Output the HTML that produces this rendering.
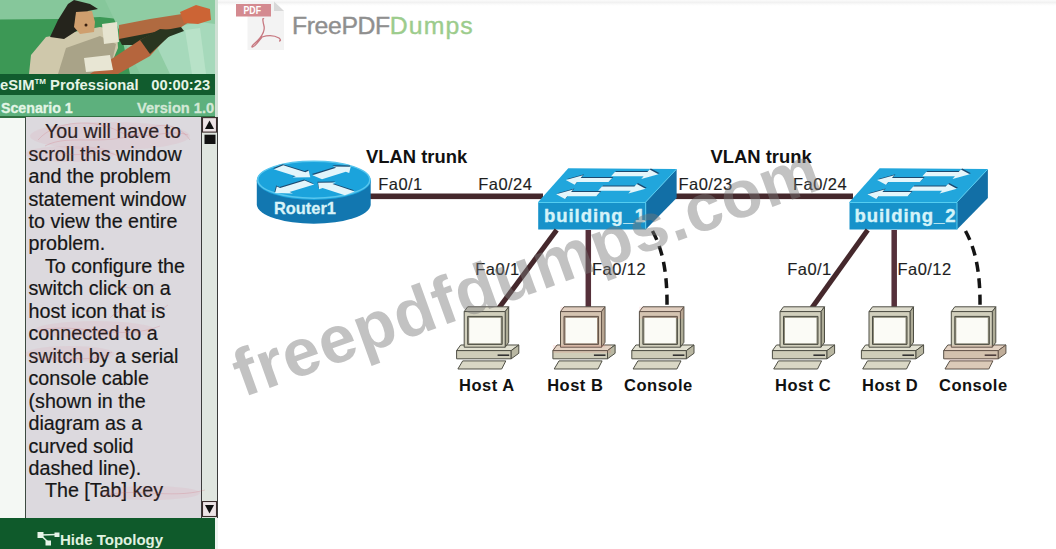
<!DOCTYPE html>
<html><head><meta charset="utf-8">
<style>
html,body{margin:0;padding:0;}
body{width:1056px;height:549px;overflow:hidden;background:#fff;position:relative;font-family:"Liberation Sans",sans-serif;}
.a{position:absolute;white-space:nowrap;}
#left{position:absolute;left:0;top:0;width:218px;height:549px;background:#f4f8f4;overflow:hidden;}
#hdr{position:absolute;left:0;top:74px;width:215px;height:21px;background:#115c2e;}
#scn{position:absolute;left:0;top:95px;width:215px;height:21.5px;background:#5db07d;}
#txt{position:absolute;left:25px;top:117px;width:176px;height:401px;background:#dcd9de;border-left:1.5px solid #3c4a40;}
#txt div{position:absolute;left:2.5px;font-size:19.7px;color:#161616;line-height:20px;white-space:nowrap;-webkit-text-stroke:0.2px #161616;}
#sb{position:absolute;left:201px;top:117px;width:15px;height:401px;background:#dfe5df;border-left:1.2px solid #3a3a3a;border-right:1.2px solid #3a3a3a;}
#bot{position:absolute;left:0;top:518px;width:215px;height:31px;background:#0f5a2b;}
.lab{font-size:16.5px;color:#1e1e1e;letter-spacing:0.45px;-webkit-text-stroke:0.15px #1e1e1e;}
.bl{font-weight:bold;color:#111;}
</style></head>
<body>
<div id="left">
  <svg class="a" style="left:0;top:0;filter:blur(0.6px)" width="215" height="74" viewBox="0 0 215 74">
    <rect x="0" y="0" width="215" height="74" fill="#86c79b"/>
    <polygon points="0,19.5 60,19 100,17 118,19 130,74 0,74" fill="#3c9855"/>
    <polygon points="105,0 215,0 215,74 140,74" fill="#8fcca3"/>
    <polygon points="150,32 200,22 215,24 215,74 170,74" fill="#a6d9bb"/>
    <polygon points="185,30 200,28 206,74 192,74" fill="#b8e2c8"/>
    <!-- shirt -->
    <polygon points="29,74 31,55 46,37 68,33 100,27 117,30 118,48 112,62 98,74" fill="#cfc8ab"/>
    <polygon points="58,74 66,48 100,36 116,44 112,62 98,74" fill="#a9a388"/>
    <!-- hair -->
    <polygon points="50,37 58,20 68,4 74,0 90,4 98,9 88,11 78,30 64,39" fill="#25241c"/>
    <!-- face -->
    <polygon points="76,12 92,11 95,22 94,32 80,34 74,27" fill="#cf9f6e"/>
    <circle cx="86" cy="25" r="1.5" fill="#3a2010"/>
    <!-- sleeve -->
    <polygon points="102,24 117,22 119,42 104,44" fill="#e6e4d0"/>
    <!-- upper arm -->
    <polygon points="119,25 150,19 182,14 192,20 180,28 150,34 119,40" fill="#b06a40"/>
    <polygon points="119,39 150,33 181,27 184,31 160,40 150,45 122,45" fill="#26331f"/>
    <!-- hand -->
    <polygon points="180,12 196,5 210,9 211,20 198,24 184,23" fill="#cc6435"/>
    <!-- lower arm -->
    <polygon points="90,74 110,60 140,40 160,30 168,36 150,56 118,74" fill="#b5653d"/>
    <polygon points="140,40 160,29 176,30 150,54" fill="#2a3520"/>
    <polygon points="84,58 110,55 113,70 86,72" fill="#e8e6d4"/>
  </svg>
  <div id="hdr"></div>
  <div id="scn"></div>
  <div class="a" style="left:0;top:76.8px;font-size:14.75px;font-weight:bold;color:#e6f4e6;">eSIM<sup style="font-size:8px;vertical-align:6px">TM</sup> Professional</div>
  <div class="a" style="left:151.3px;top:76.8px;font-size:14.7px;font-weight:bold;color:#e6f4e6;">00:00:23</div>
  <div class="a" style="left:1px;top:100.3px;font-size:14.2px;font-weight:bold;color:#e3f5e6;-webkit-text-stroke:0.3px #e3f5e6">Scenario 1</div>
  <div class="a" style="left:137px;top:100.1px;font-size:14.6px;font-weight:bold;color:#d2e8d6;-webkit-text-stroke:0.3px #d2e8d6">Version 1.0</div>
  <div class="a" style="left:0;top:116.3px;width:215px;height:1.7px;background:#2f6e40"></div>
  <div id="txt">
    <div style="top:4.20px">&nbsp;&nbsp;&nbsp;You will have to</div>
    <div style="top:26.65px">scroll this window</div>
    <div style="top:49.10px">and the problem</div>
    <div style="top:71.55px">statement window</div>
    <div style="top:94.00px">to view the entire</div>
    <div style="top:116.45px">problem.</div>
    <div style="top:138.90px">&nbsp;&nbsp;&nbsp;To configure the</div>
    <div style="top:161.35px">switch click on a</div>
    <div style="top:183.80px">host icon that is</div>
    <div style="top:206.25px">connected to a</div>
    <div style="top:228.70px">switch by a serial</div>
    <div style="top:251.15px">console cable</div>
    <div style="top:273.60px">(shown in the</div>
    <div style="top:296.05px">diagram as a</div>
    <div style="top:318.50px">curved solid</div>
    <div style="top:340.95px">dashed line).</div>
    <div style="top:363.40px">&nbsp;&nbsp;&nbsp;The [Tab] key</div>
  </div>
  <div id="sb">
    <svg class="a" style="left:0;top:0" width="15" height="30">
      <rect x="0.5" y="0.6" width="14" height="14.5" fill="#ede4e6" stroke="#3a2a2a" stroke-width="1.1"/>
      <polygon points="3,12 7.5,3.5 12,12" fill="#111"/>
      <rect x="2.5" y="17.7" width="11" height="9.3" fill="#111"/>
    </svg>
    <svg class="a" style="left:0;top:384px" width="15" height="17">
      <rect x="0.5" y="0.5" width="14" height="15" fill="#ede4e6" stroke="#3a2a2a" stroke-width="1.1"/>
      <polygon points="3,4 12,4 7.5,12.5" fill="#111"/>
    </svg>
  </div>
  <div id="bot"></div>
  <svg class="a" style="left:37px;top:531px" width="24" height="15">
    <line x1="3.5" y1="4" x2="20" y2="3.5" stroke="#dff0e2" stroke-width="1.4"/>
    <line x1="3.5" y1="4" x2="11" y2="11" stroke="#dff0e2" stroke-width="1.6"/>
    <rect x="0.5" y="1" width="6" height="6" fill="#e6f4e8"/>
    <rect x="17.5" y="1.5" width="5" height="4.5" fill="#e6f4e8"/>
    <rect x="8.5" y="9.5" width="5.5" height="5" fill="#e6f4e8"/>
  </svg>
  <div class="a" style="left:60px;top:530.5px;font-size:15px;font-weight:bold;color:#e0f2e0;">Hide Topology</div>
</div>
<svg class="a" style="left:0;top:0;pointer-events:none" width="218" height="549" viewBox="0 0 218 549">
  <g fill="none" stroke="rgba(205,95,110,0.22)" stroke-width="1">
    <path d="M38,140 C55,120 95,118 120,132 C140,142 170,128 188,135"/>
    <path d="M45,146 C70,132 110,150 150,128 C165,122 180,126 190,140"/>
    <path d="M60,152 C80,160 100,146 118,156"/>
    <path d="M100,290 C120,280 140,296 155,284"/>
    <path d="M110,318 C125,300 150,320 168,305"/>
    <path d="M40,330 C80,322 120,342 160,326"/>
    <path d="M30,362 C60,352 90,366 112,352"/>
    <path d="M100,497 C130,486 170,500 205,490"/>
  </g>
  <g fill="rgba(225,130,145,0.10)">
    <ellipse cx="110" cy="136" rx="80" ry="14"/>
    <ellipse cx="70" cy="154" rx="45" ry="8"/>
    <ellipse cx="95" cy="330" rx="60" ry="9"/>
    <ellipse cx="70" cy="354" rx="45" ry="8"/>
    <ellipse cx="150" cy="493" rx="50" ry="7"/>
  </g>
</svg>
<div class="a" style="left:215px;top:0;width:3px;height:117px;background:#cfe0d4"></div><div class="a" style="left:215px;top:518px;width:3px;height:31px;background:#eef4f0"></div>

<div class="a" style="left:218px;top:0;width:838px;height:6px;background:linear-gradient(#fbfbfb,#f1f1f1 40%,#fafafa 70%,#fff)"></div>
<!-- logo -->
<svg class="a" style="left:230px;top:0" width="60" height="55" viewBox="0 0 60 55">
  <polygon points="17.5,1.5 44,1.5 54,11 54,50 17.5,50" fill="#f3f3f3"/>
  <polygon points="44,1.5 54,11 44,11" fill="#d8d8d8"/>
  <rect x="6" y="4" width="35" height="12.5" fill="#d48a90"/>
  <text x="13.5" y="14.3" font-family="Liberation Sans" font-weight="bold" font-size="11" fill="#fff" textLength="17.5" lengthAdjust="spacingAndGlyphs">PDF</text>
  <path d="M34,19 C32,17 33,22 34,26 C35,30 33,34 30,38 C27,42 21,46 22,47 C24,48 28,42 32,37 C38,35 44,35 49,38 C51,40 51,41 49,41" fill="none" stroke="#c77880" stroke-width="1.3"/>
</svg>
<div class="a" style="left:292px;top:11.5px;font-size:24.8px;color:#8f8f8f;letter-spacing:-0.4px;-webkit-text-stroke:0.4px #8f8f8f">FreePDF<span style="color:#9ccc8c;letter-spacing:1.1px;-webkit-text-stroke:0.4px #9ccc8c">Dumps</span></div>

<!-- diagram -->
<svg class="a" style="left:0;top:0" width="1056" height="549" viewBox="0 0 1056 549">
  <defs>
    <g id="pc" stroke="#4e4e44" stroke-width="1" stroke-linejoin="round">
      <polygon points="-3.5,38.2 54.6,38.2 47,43.8 -7.6,43.8" fill="#e2e1d2"/>
      <rect x="-7.6" y="43.8" width="54.6" height="8.2" fill="#cfcdb9"/>
      <polygon points="47,43.8 54.6,38.2 54.6,46.5 47,52" fill="#b9b7a2"/>
      <line x1="33.4" y1="48.4" x2="45" y2="48.4" stroke="#333" stroke-width="1.6"/>
      <polygon points="-1.5,54.1 41.6,54.1 37.5,62.2 -6.3,62.2" fill="#d9d7c5"/>
      <polygon points="0,4.8 41,4.8 44.5,0 3.5,0" fill="#dedccd"/>
      <polygon points="41,4.8 44.5,0 44.5,35.5 41,40.4" fill="#aeac97"/>
      <rect x="0" y="4.8" width="41" height="35.6" fill="#d2d0bd"/>
      <rect x="3.5" y="9.6" width="34.5" height="28" fill="#8d8b7a" stroke="#4e4e44"/>
      <rect x="5" y="11" width="31.5" height="25.5" fill="#fbfbf6" stroke="none"/>
    </g>
  </defs>

  <!-- trunk lines -->
  <rect x="368" y="193.5" width="175" height="5.6" fill="#45282c"/>
  <rect x="675" y="193.5" width="178" height="5.6" fill="#45282c"/>
  <!-- router -->
  <path d="M256.8,180.5 L256.8,205 A57,19.5 0 0 0 370.7,205 L370.7,180.5 Z" fill="#1277b0"/>
  <ellipse cx="313.75" cy="180.5" rx="57" ry="19.5" fill="#1ba3dc"/>
  <ellipse cx="313.75" cy="179.7" rx="56" ry="18.5" fill="none" stroke="#58c6ee" stroke-width="1.5"/>
  <g fill="#1d4a70" transform="translate(-0.6,-1.1)">

    <polygon points="273.7,169.3 295.8,176.2 292.4,177.6 310.3,177.2 308.7,170.8 305.3,172.2 283.3,165.3"/>
    <polygon points="322.0,179.2 345.8,171.7 349.2,173.1 350.7,166.7 332.8,166.4 336.2,167.8 312.4,175.2"/>
    <polygon points="304.7,180.5 280.1,188.0 276.8,186.6 275.1,193.0 293.0,193.4 289.6,192.0 314.2,184.5"/>
    <polygon points="354.8,191.4 332.5,184.0 336.0,182.6 318.1,182.8 319.1,189.2 322.6,187.9 344.9,195.3"/>
  </g>
  <g fill="#e2f5fb">

    <polygon points="273.7,169.3 295.8,176.2 292.4,177.6 310.3,177.2 308.7,170.8 305.3,172.2 283.3,165.3"/>
    <polygon points="322.0,179.2 345.8,171.7 349.2,173.1 350.7,166.7 332.8,166.4 336.2,167.8 312.4,175.2"/>
    <polygon points="304.7,180.5 280.1,188.0 276.8,186.6 275.1,193.0 293.0,193.4 289.6,192.0 314.2,184.5"/>
    <polygon points="354.8,191.4 332.5,184.0 336.0,182.6 318.1,182.8 319.1,189.2 322.6,187.9 344.9,195.3"/>
  </g>
  <!-- switch 1 -->
  <g id="sw">
  <polygon points="568.3,168.2 676.6,169 645.7,202 538.2,202" fill="#21a6dc"/>
  <rect x="538.2" y="202" width="107.5" height="27.5" fill="#1792ca"/>
  <polygon points="645.7,202 676.6,169 676.6,198 645.7,229.5" fill="#126fa6"/>
  <line x1="538.2" y1="202.5" x2="645.7" y2="202.5" stroke="#55cdf0" stroke-width="1.2"/>
  <line x1="645.7" y1="202.5" x2="645.7" y2="229.5" stroke="#55cdf0" stroke-width="1"/>
  <line x1="645.7" y1="202" x2="676.6" y2="169" stroke="#55cdf0" stroke-width="1"/>
  <g transform="matrix(1 0 -0.8905 1 568.3 168.2)">
  <g fill="#1d4a70" transform="translate(0.3,-1)">
    <polygon points="50.0,8.1 82.5,8.1 82.5,10.7 95.5,6.0 82.5,1.3 82.5,3.9 50.0,3.9"/>
    <polygon points="52.5,9.7 21.0,9.7 21.0,7.1 8.0,11.8 21.0,16.5 21.0,13.9 52.5,13.9"/>
    <polygon points="50.0,22.6 82.5,22.6 82.5,25.2 95.5,20.5 82.5,15.8 82.5,18.4 50.0,18.4"/>
    <polygon points="53.0,23.9 24.0,23.9 24.0,21.3 11.0,26.0 24.0,30.7 24.0,28.1 53.0,28.1"/>
  </g>
  <g fill="#e4f6fb">
    <polygon points="50.0,8.1 82.5,8.1 82.5,10.7 95.5,6.0 82.5,1.3 82.5,3.9 50.0,3.9"/>
    <polygon points="52.5,9.7 21.0,9.7 21.0,7.1 8.0,11.8 21.0,16.5 21.0,13.9 52.5,13.9"/>
    <polygon points="50.0,22.6 82.5,22.6 82.5,25.2 95.5,20.5 82.5,15.8 82.5,18.4 50.0,18.4"/>
    <polygon points="53.0,23.9 24.0,23.9 24.0,21.3 11.0,26.0 24.0,30.7 24.0,28.1 53.0,28.1"/>
  </g>
  </g>
  </g>
  <!-- switch 2 -->
  <use href="#sw" x="311.3" y="0"/>
  <!-- cables -->
  <line x1="556.7" y1="230" x2="498.9" y2="308" stroke="#45282c" stroke-width="5"/>
  <line x1="588.3" y1="230" x2="588.3" y2="308" stroke="#55303a" stroke-width="5.5"/>
  <path d="M652.5,231 C660,245 667.5,265 667,307" fill="none" stroke="#141414" stroke-width="3.5" stroke-dasharray="10,6.5"/>
  <line x1="867.7" y1="230" x2="811.8" y2="308" stroke="#45282c" stroke-width="5"/>
  <line x1="894.2" y1="230" x2="894.2" y2="308" stroke="#55303a" stroke-width="5.5"/>
  <path d="M965.5,231 C973,245 980.5,265 980,307" fill="none" stroke="#141414" stroke-width="3.5" stroke-dasharray="10,6.5"/>
  <use href="#pc" x="464.2" y="306.8"/>
  <use href="#pc" x="560.5" y="306.8"/>
  <use href="#pc" x="639.4" y="306.8"/>
  <use href="#pc" x="780" y="306.8"/>
  <use href="#pc" x="869" y="306.8"/>
  <use href="#pc" x="951.3" y="306.8"/>
  <g fill="rgba(235,130,115,0.15)">
    <polygon points="943.7,350.6 947.8,345 1005.9,345 1005.9,353.3 998.3,358.8 993,361 988.9,369 945,369 949.8,360.9 943.7,358.8"/>
    <path fill-rule="evenodd" d="M560.5,306.8 h44.5 v40.4 h-44.5 z M565.5,317.8 h31.5 v25.5 h-31.5 z"/>
    <polygon points="552.9,345 611,345 611,353 552.9,353"/>
    <path fill-rule="evenodd" d="M639.4,306.8 h44.5 v12 h-44.5 z M644.4,317.8 h31.5 v1 h-31.5 z"/>
  </g>
</svg>


<!-- labels -->
<div class="a bl" style="left:366px;top:145.5px;font-size:18.4px;">VLAN trunk</div>
<div class="a bl" style="left:710.5px;top:145.5px;font-size:18.4px;">VLAN trunk</div>
<div class="a lab" style="left:378.3px;top:175px;">Fa0/1</div>
<div class="a lab" style="left:478.3px;top:175px;">Fa0/24</div>
<div class="a lab" style="left:678.5px;top:175px;">Fa0/23</div>
<div class="a lab" style="left:793px;top:175px;">Fa0/24</div>
<div class="a lab" style="left:475.3px;top:259.5px;">Fa0/1</div>
<div class="a lab" style="left:592px;top:259.5px;">Fa0/12</div>
<div class="a lab" style="left:787.3px;top:259.5px;">Fa0/1</div>
<div class="a lab" style="left:897.5px;top:259.5px;">Fa0/12</div>
<div class="a" style="left:274px;top:199px;font-size:16.4px;font-weight:bold;color:#d8f3f9;-webkit-text-stroke:0.3px #d8f3f9">Router1</div>
<div class="a" style="left:544px;top:205px;font-size:18.5px;font-weight:bold;color:#d4f3f9;letter-spacing:0.95px;-webkit-text-stroke:0.4px #d4f3f9">building_1</div>
<div class="a" style="left:854.5px;top:205px;font-size:18.5px;font-weight:bold;color:#d4f3f9;letter-spacing:0.95px;-webkit-text-stroke:0.4px #d4f3f9">building_2</div>
<div class="a bl" style="left:459px;top:376.3px;font-size:16.5px;letter-spacing:0.5px;">Host A</div>
<div class="a bl" style="left:547.2px;top:376.3px;font-size:16.5px;letter-spacing:0.5px;">Host B</div>
<div class="a bl" style="left:624.1px;top:376.3px;font-size:16.5px;letter-spacing:0.5px;">Console</div>
<div class="a bl" style="left:775px;top:376.3px;font-size:16.5px;letter-spacing:0.5px;">Host C</div>
<div class="a bl" style="left:862px;top:376.3px;font-size:16.5px;letter-spacing:0.5px;">Host D</div>
<div class="a bl" style="left:939px;top:376.3px;font-size:16.5px;letter-spacing:0.5px;">Console</div>


<svg class="a" style="left:0;top:0" width="1056" height="549" viewBox="0 0 1056 549">
  <text x="243.3" y="397.5" transform="rotate(-19.8 243.3 397.5)" font-family="Liberation Sans" font-weight="bold" font-size="67" letter-spacing="0.95" fill="rgba(120,120,120,0.45)">freepdfdumps.com</text>
</svg>
</body></html>
